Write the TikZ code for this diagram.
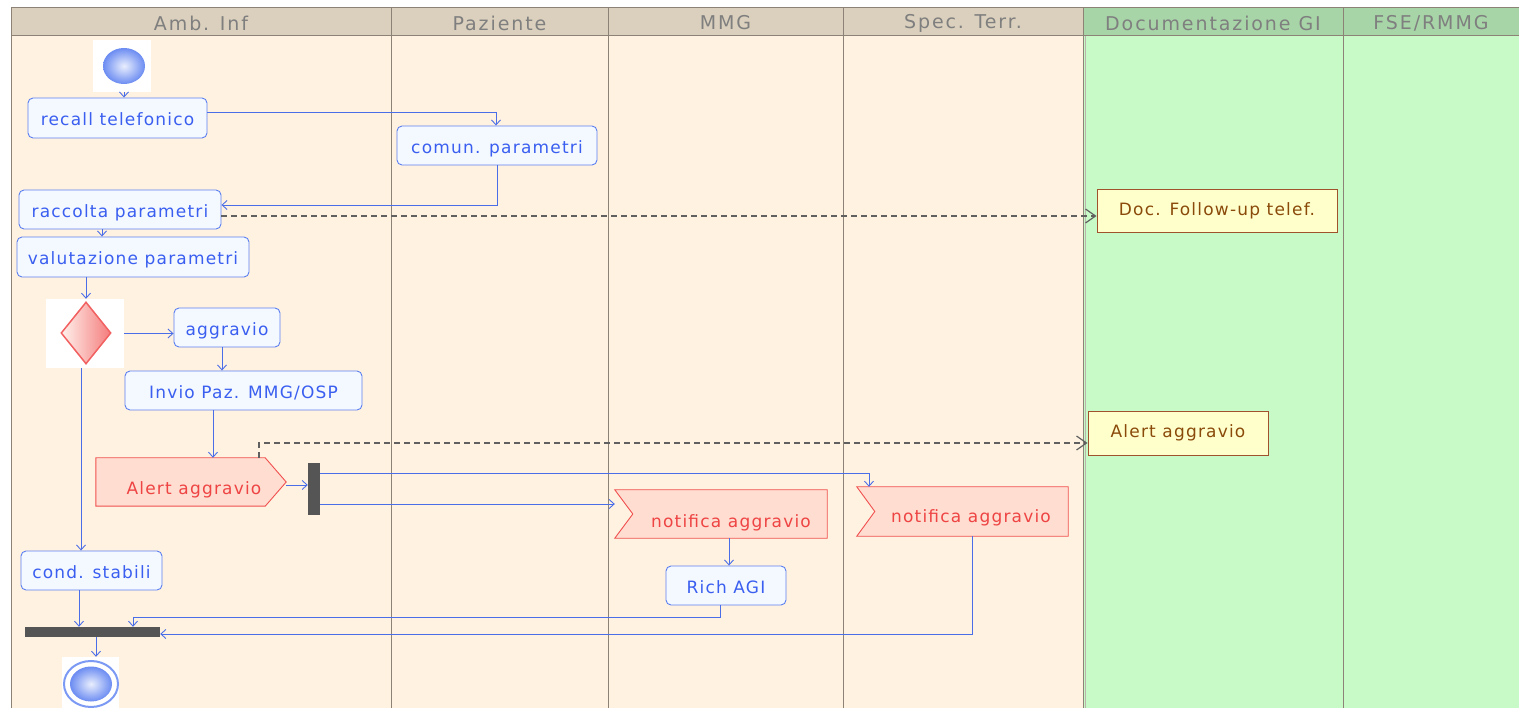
\documentclass[tikz,border=0pt]{standalone}
\usepackage{fontspec}
\setmainfont{DejaVu Sans}
\newfontfamily\lblfont[LetterSpace=7]{DejaVu Sans}
\newfontfamily\hdrfont[LetterSpace=10]{DejaVu Sans}
\usetikzlibrary{arrows.meta,shapes.geometric}
\definecolor{laneA}{HTML}{FFF2E0}
\definecolor{headA}{HTML}{DBD0BD}
\definecolor{laneG}{HTML}{C8FAC8}
\definecolor{headG}{HTML}{A8D5A8}
\definecolor{laneline}{HTML}{8C8275}
\definecolor{headtext}{HTML}{7F7F7F}
\definecolor{actfill}{HTML}{F4F8FF}
\definecolor{actborder}{HTML}{5B7FF0}
\definecolor{acttext}{HTML}{3A5FF0}
\definecolor{edgecol}{HTML}{4A6EE8}
\definecolor{sigfill}{HTML}{FFDDD0}
\definecolor{sigborder}{HTML}{F05050}
\definecolor{sigtext}{HTML}{EE4444}
\definecolor{notefill}{HTML}{FFFFCC}
\definecolor{noteborder}{HTML}{A0522D}
\definecolor{notetext}{HTML}{8A4A0A}
\definecolor{dashcol}{HTML}{606060}
\definecolor{barcol}{HTML}{555555}
\begin{document}
\begin{tikzpicture}[x=1pt,y=-1pt,
  lbl/.style={font=\lblfont\fontsize{17}{19}\selectfont},
  act/.style={lbl, draw=actborder, fill=actfill, rounded corners=5pt, line width=0.9pt, text=acttext, inner sep=0pt, minimum height=40pt, text height=17pt, text depth=1pt},
  note/.style={lbl, draw=noteborder, fill=notefill, line width=0.9pt, text=notetext, inner sep=0pt},
  sigbox/.style={inner sep=0pt},
  sigshape/.style={draw=sigborder, fill=sigfill, line width=0.9pt},
  sigtxt/.style={lbl, text=sigtext, inner sep=0pt, text height=17pt, text depth=1pt},
  bar/.style={fill=barcol, inner sep=0pt},
  flow/.style={draw=edgecol, line width=0.9pt, -{Straight Barb[length=5pt,width=9pt]}},
  dflow/.style={draw=dashcol, line width=1.2pt, dash pattern=on 6pt off 4pt, -{Straight Barb[length=10pt,width=14pt]}},
  headtxt/.style={font=\hdrfont\fontsize{19}{21}\selectfont, text=headtext},
  bgsq/.style={fill=white, inner sep=0pt}
]
\useasboundingbox (0,0) rectangle (1519,708);
% lanes
\fill[laneA] (11,36) rectangle (1083,708);
\fill[laneG] (1083,36) rectangle (1519,708);
\foreach \a/\b/\c in {11/391/headA,391/608/headA,608/843/headA,843/1083/headA,1083/1343/headG,1343/1519/headG}{
  \fill[\c] (\a,8) rectangle (\b,36);
  \draw[laneline, line width=1pt] (\a,8) rectangle (\b,36);
}
\foreach \x in {11,391,608,843,1083,1343}{
  \draw[laneline, line width=1pt] (\x,36) -- (\x,708);
}
\draw[laneline!60, line width=0.8pt] (1085.5,36) -- (1085.5,708);
\node[headtxt] (h1) at (201,23) {Amb. Inf};
\node[headtxt] (h2) at (499.5,23) {Paziente};
\node[headtxt] (h3) at (725.5,23) {MMG};
\node[headtxt] (h4) at (963,23) {Spec. Terr.};
\node[headtxt] (h5) at (1213,23) {Documentazione GI};
\node[headtxt] (h6) at (1431,23) {FSE/RMMG};

% start
\node[bgsq, minimum width=58pt, minimum height=52pt] (startbg) at (122,66) {};
\node[ellipse, inner sep=0pt, minimum width=42pt, minimum height=36pt, inner color=actfill!60!actborder!30, outer color=actborder!90] (start) at (124,66) {};

% activities
\node[act, minimum width=179pt] (recall) at (117.5,118) {recall telefonico};
\node[act, minimum width=200pt, minimum height=39pt] (comun) at (497,145.5) {comun. parametri};
\node[act, minimum width=202pt, minimum height=39pt] (raccolta) at (120,209.5) {raccolta parametri};
\node[act, minimum width=232pt] (valut) at (133,257) {valutazione parametri};

% decision
\node[bgsq, minimum width=78pt, minimum height=69pt] (decbg) at (85,333.5) {};
\node[diamond, draw=sigborder!90, line width=1.5pt, inner sep=0pt, minimum width=50pt, minimum height=62pt, left color=sigfill!40!white, right color=sigborder!75] (dec) at (86,333) {};

\node[act, minimum width=106pt, minimum height=39pt] (aggr) at (227,327.5) {aggravio};
\node[act, minimum width=237pt, minimum height=39pt] (invio) at (243.5,390.5) {Invio Paz. MMG/OSP};

% alert send signal
\node[sigbox, minimum width=190pt, minimum height=48pt] (alert) at (191,482) {};
\draw[sigshape] (alert.north west) -- ([xshift=-21pt]alert.north east) -- (alert.east) -- ([xshift=-21pt]alert.south east) -- (alert.south west) -- cycle;
\node[sigtxt] (alerttxt) at (194,487) {Alert aggravio};

% fork
\node[bar, minimum width=12pt, minimum height=52pt] (fork) at (314,489) {};

% notifica MMG
\node[sigbox, minimum width=212pt, minimum height=48pt] (mmgn) at (721,514) {};
\draw[sigshape] (mmgn.north west) -- (mmgn.north east) -- (mmgn.south east) -- (mmgn.south west) -- ([xshift=18pt]mmgn.west) -- cycle;
\node[sigtxt] (mmgtxt) at (731,519) {notifica aggravio};

% notifica Spec
\node[sigbox, minimum width=211pt, minimum height=49pt] (specn) at (962.5,511.5) {};
\draw[sigshape] (specn.north west) -- (specn.north east) -- (specn.south east) -- (specn.south west) -- ([xshift=18pt]specn.west) -- cycle;
\node[sigtxt] (spectxt) at (971,514) {notifica aggravio};

\node[act, minimum width=120pt, minimum height=39pt] (rich) at (726,585.5) {Rich AGI};
\node[act, minimum width=141pt, minimum height=39pt] (cond) at (91.5,570.5) {cond. stabili};

% join
\node[bar, minimum width=135pt, minimum height=10pt] (join) at (92.5,632) {};

% end
\node[bgsq, minimum width=57pt, minimum height=52pt] (endbg) at (90.5,683) {};
\node[ellipse, draw=actborder!80, line width=2pt, fill=white, inner sep=0pt, minimum width=54pt, minimum height=46pt] (endo) at (91,684) {};
\node[ellipse, inner sep=0pt, minimum width=42pt, minimum height=35pt, inner color=actfill!60!actborder!30, outer color=actborder!90] (endi) at (91,684) {};

% notes
\node[note, minimum width=240pt, minimum height=43pt] (docnote) at (1217,210.5) {Doc. Follow-up telef.};
\node[note, minimum width=180pt, minimum height=44pt] (alertnote) at (1178,433) {Alert aggravio};

% connectors
\draw[flow] (start |- startbg.south) -- (start |- recall.north);
\draw[flow] ([yshift=6pt]recall.east) -| ([xshift=-1pt]comun.north);
\draw[flow] (comun.south) |- ([yshift=4.5pt]raccolta.east);
\draw[dflow] ([yshift=-6.5pt]raccolta.east) coordinate (r1) -- (r1 -| docnote.west);
\draw[flow] ([xshift=-18pt]raccolta.south) -- ([xshift=-18pt]raccolta.south |- valut.north);
\draw[flow] (dec |- valut.south) -- (dec |- decbg.north);
\draw[flow] (decbg.east) -- (decbg.east -| aggr.west);
\draw[flow] ([xshift=-5pt]aggr.south) -- ([xshift=-5pt]aggr.south |- invio.north);
\draw[flow] ([xshift=-30.5pt]invio.south) -- ([xshift=-30.5pt]invio.south |- alert.north);
\draw[dflow] ([xshift=68pt]alert.north) |- ([yshift=-10pt]alertnote.west);
\draw[flow] ([yshift=-3pt]alert.east) -- ([yshift=-3pt]alert.east -| fork.west);
\draw[flow] ([yshift=16pt]fork.east) -| ([xshift=-93.5pt]specn.north);
\draw[flow] ([yshift=-15pt]fork.east) -- ([yshift=-15pt]fork.east -| mmgn.west);
\draw[flow] ([xshift=8pt]mmgn.south) -- ([xshift=8pt]mmgn.south |- rich.north);
\draw[flow] ([xshift=-6pt]rich.south) -- ++(0,12) -| ([xshift=40.5pt]join.north);
\draw[flow] ([xshift=9.5pt]specn.south) |- ([yshift=-2pt]join.east);
\draw[flow] ([xshift=-4pt]decbg.south) -- ([xshift=-4pt]decbg.south |- cond.north);
\draw[flow] ([xshift=-12.5pt]cond.south) -- ([xshift=-12.5pt]cond.south |- join.north);
\draw[flow] ([xshift=3.5pt]join.south) -- ([xshift=3.5pt]join.south |- endbg.north);
\end{tikzpicture}
\end{document}
